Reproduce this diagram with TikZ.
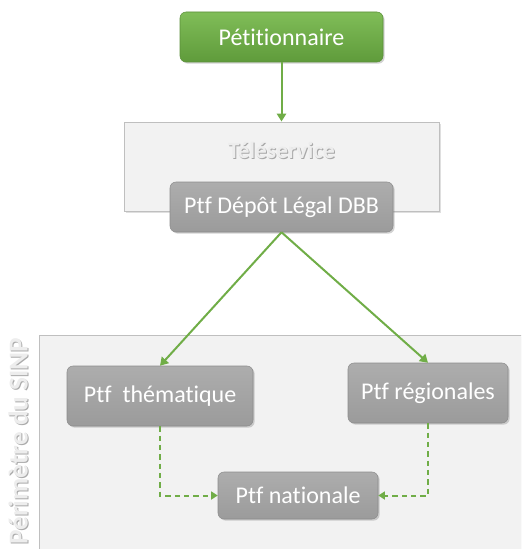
\documentclass[tikz,border=0pt]{standalone}
\usepackage{fontspec}
\setmainfont{Carlito}[Ligatures={NoCommon}]
\usetikzlibrary{arrows.meta,shadows,calc}
\definecolor{grn}{HTML}{70AD47}
\definecolor{grntop}{HTML}{80BD58}
\definecolor{grnbot}{HTML}{5F9B3B}
\definecolor{grnedge}{HTML}{5B8F3A}
\definecolor{gtop}{HTML}{ADADAD}
\definecolor{gbot}{HTML}{9B9B9B}
\definecolor{gedge}{HTML}{8C8C8C}
\definecolor{panelfill}{HTML}{F2F2F2}
\definecolor{paneledge}{HTML}{BFBFBF}
\definecolor{ghosttext}{HTML}{EDEDED}
\definecolor{ghostshadow}{HTML}{8E8E8E}
\tikzset{
  boxbase/.style={rectangle, rounded corners=4.5pt, text=white, inner sep=0pt,
    font=\fontsize{18}{21}\selectfont,
    drop shadow={opacity=0.35, shadow xshift=1.2pt, shadow yshift=-1.2pt}},
  greenbox/.style={boxbase, draw=grnedge, top color=grntop, bottom color=grnbot},
  graybox/.style={boxbase, draw=gedge, top color=gtop, bottom color=gbot},
  panel/.style={draw=paneledge, fill=panelfill, line width=0.7pt,
    drop shadow={opacity=0.25, shadow xshift=1.2pt, shadow yshift=-1.2pt}},
  solidarrow/.style={draw=grn, line width=1.5pt, -{Triangle[width=7pt,length=6pt]}},
  dasharrow/.style={draw=grn, line width=1.5pt, dash pattern=on 4pt off 3pt,
    -{Triangle[width=6pt,length=5pt]}},
  ghost/.style={text=ghosttext, font=\bfseries\fontsize{#1}{#1}\selectfont, inner sep=0pt},
  ghostsh/.style={text=ghostshadow, font=\bfseries\fontsize{#1}{#1}\selectfont, inner sep=0pt, opacity=0.75},
}
\begin{document}
\begin{tikzpicture}[x=0.75pt,y=-0.75pt]
\useasboundingbox (0,0) rectangle (521,549);
\begin{scope}
  \clip (0,0) rectangle (521,549);
  \path[panel] (39,335) rectangle (560,600);
\end{scope}
% vertical label
\node[ghostsh=20.5, rotate=90, anchor=east] (sinpsh) at (19.2,338.2) {Périmètre du SINP};
\node[ghost=20.5, rotate=90, anchor=east] (sinp) at (18.2,337.2) {Périmètre du SINP};
% Téléservice panel
\node[panel, minimum width=236.25pt, minimum height=66.75pt, inner sep=0pt] (tele) at (281.5,166.5) {};
\node[ghostsh=17.5] (telesh) at (282.5,151) {Téléservice};
\node[ghost=17.5] (teletxt) at (281.5,150) {Téléservice};
% boxes
\node[greenbox, minimum width=152.25pt, minimum height=37.5pt] (pet) at (281.5,37) {Pétitionnaire};
\node[graybox, minimum width=167.25pt, minimum height=37.5pt] (dbb) at (281.5,207) {Ptf Dépôt Légal DBB};
\node[graybox, minimum width=139.5pt, minimum height=45pt] (them) at (160,396) {Ptf\ \ thématique};
\node[graybox, minimum width=120pt, minimum height=45pt] (reg) at (428,393) {Ptf régionales};
\node[graybox, minimum width=120pt, minimum height=35.25pt] (nat) at (298,495.5) {Ptf nationale};
% connectors
\draw[solidarrow] (pet.south) -- (tele.north);
\draw[solidarrow] (dbb.south) -- (them.north);
\draw[solidarrow] (dbb.south) -- (reg.north);
\draw[dasharrow] (them.south) |- (nat.west);
\draw[dasharrow] (reg.south) |- (nat.east);
\end{tikzpicture}
\end{document}
